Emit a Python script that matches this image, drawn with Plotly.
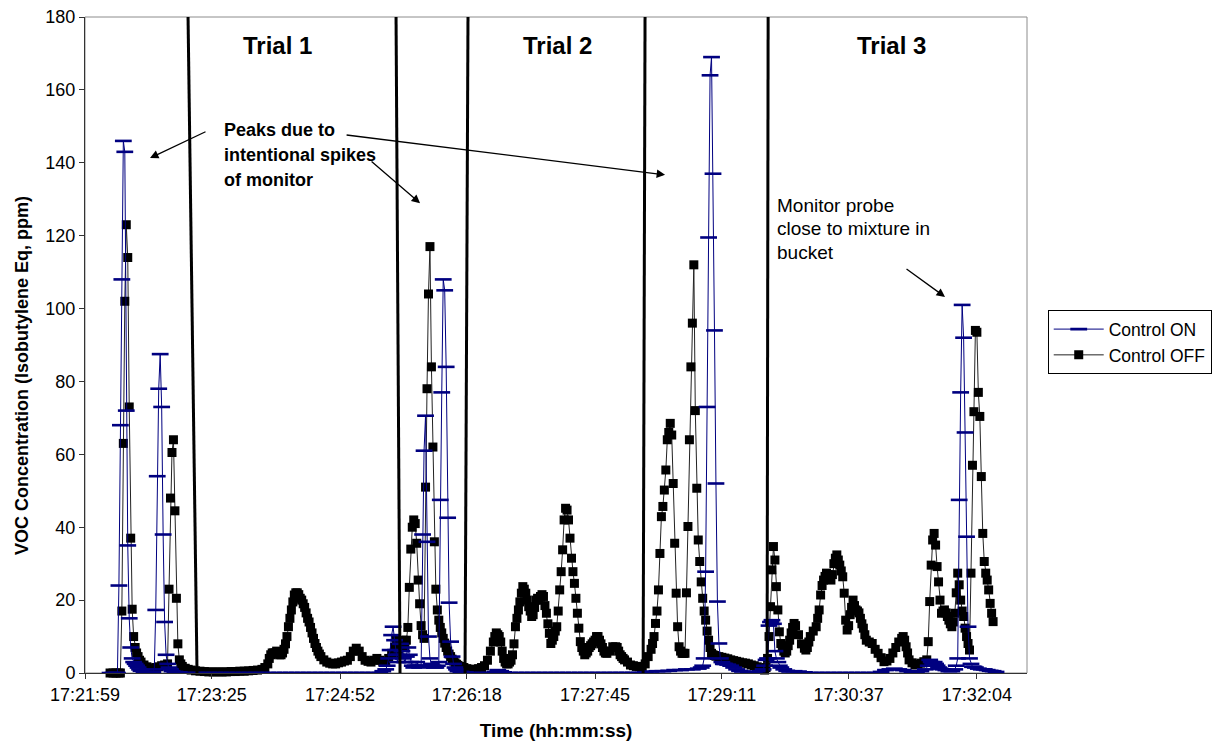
import plotly.graph_objects as go

# ---------------- data (seconds after 17:21:59) ----------------
off_t = [17, 19, 21, 23, 24,
         25, 26, 27, 28, 29, 30, 31, 32, 33, 34, 35, 36, 37, 38, 40, 42, 44, 46, 48, 50, 52, 54, 56,
         57, 58, 59, 60, 61, 62, 63, 64, 65, 66, 68, 70, 72, 75, 78, 81, 84, 87, 90, 93, 96, 99, 102,
         105, 108, 111, 114, 117, 120, 122, 124, 125, 126, 127, 128, 129, 130, 131, 132, 133, 134, 135,
         136, 137, 138, 139, 140, 141, 142, 143, 144, 145, 146, 147, 148, 149, 150, 151, 152, 153, 154,
         155, 156, 157, 158, 159, 160, 162, 164, 166, 168, 170, 172, 174, 176, 178, 180, 182, 184, 186,
         188, 190, 192, 194, 196, 198, 200, 202, 204, 206, 208, 210, 211, 212, 213, 214, 215, 216, 217,
         218, 219, 220, 221, 222, 223, 224, 225, 226, 227, 228, 229, 230, 231, 232, 233, 234, 235, 236,
         237, 238, 239, 240, 241, 242, 243, 244, 245, 246, 247, 248, 249, 250, 251, 252, 253, 255, 257,
         259, 261, 263, 265, 267, 269, 271, 273, 275, 277, 278, 279, 280, 281, 282, 283, 284, 285, 286,
         287, 288, 289, 290, 291, 292, 293, 294, 295, 296, 297, 298, 299, 300, 301, 302, 303, 304, 305,
         306, 307, 308, 309, 310, 311, 312, 313, 314, 315, 316, 317, 318, 319, 320, 321, 322, 323, 324,
         325, 326, 327, 328, 329, 330, 331, 332, 333, 334, 335, 336, 337, 338, 339, 340, 341, 342, 343,
         344, 345, 346, 347, 348, 349, 350, 351, 352, 353, 354, 356, 358, 360, 361, 362, 363, 364, 365,
         366, 368, 370, 372, 374, 376, 378, 380, 382, 384, 385, 386, 387, 388, 389, 390, 391, 392, 393,
         394, 395, 396, 397, 398, 399, 400, 401, 402, 403, 404, 405, 406, 407, 408, 409, 410, 411, 412,
         413, 414, 415, 416, 417, 418, 419, 420, 421, 422, 423, 424, 425, 426, 427, 428, 430, 432, 434,
         436, 438, 440, 442, 444, 446, 448, 450, 452, 454, 456, 458, 460, 461, 462, 463, 464, 465, 466,
         467, 468, 469, 470, 471, 472, 473, 474, 475, 476, 477, 478, 479, 480, 481, 482, 484, 486, 488,
         489, 490, 491, 492, 494, 496, 497, 498, 499, 500, 501, 502, 503, 504, 505, 506, 507, 508, 509,
         510, 511, 512, 513, 514, 515, 516, 517, 518, 519, 520, 521, 522, 523, 524, 525, 526, 527, 528,
         529, 530, 532, 534, 536, 538, 540, 542, 544, 546, 548, 550, 552, 554, 555, 556, 557, 558, 559,
         561, 563, 565, 567, 569, 571, 572, 573, 574, 575, 576, 577, 578, 579, 580, 581, 582, 583, 584,
         585, 586, 587, 588, 589, 590, 591, 592, 593, 594, 595, 596, 597, 598, 599, 600, 601, 602, 603,
         604, 605, 606, 607, 608, 609, 610, 611, 612, 613, 614, 615, 616]
off_v = [0, 0, 0, 0, 0,
         17, 63, 102, 123, 114, 73, 37, 17.5, 10, 7, 5.5, 4.5, 3.5, 3, 2.2, 1.7, 1.3, 1.2, 1.5, 1.7, 2, 2.2, 2.5,
         23, 48, 60.5, 64, 44.5, 20.5, 8, 3.6, 2.5, 1.8, 1.3, 1, 0.8, 0.6, 0.5, 0.4, 0.3, 0.3, 0.3, 0.3, 0.3, 0.4, 0.4,
         0.5, 0.5, 0.6, 0.7, 0.8, 1, 1.5, 2.5, 4, 5, 5.5, 5.5, 5.5, 6, 5.5, 5, 5, 5.5, 6.5,
         8, 10, 12.7, 15, 17.3, 19.5, 21.4, 22, 22, 21.5, 20.5, 20, 19, 18, 16.5, 15, 14, 12.5, 11,
         9.5, 8.1, 7, 6, 5.2, 4.5, 3.6, 3, 2.7, 2.5, 2.5, 2.8, 3, 3.3, 3.5, 4.5, 6, 6.8, 6,
         4.5, 3.5, 3.2, 3, 3.5, 4, 3.5, 3, 3.2, 4, 5.4, 7, 9, 6, 5, 7, 8, 9, 7,
         9, 12.5, 23.5, 34, 40, 42, 41, 35.6, 25.5, 19, 13, 10.5, 9.5, 51, 78, 104, 117, 84, 62,
         36, 23, 17.3, 14.5, 12.5, 11, 9.5, 8.2, 7, 6, 5.2, 4.5, 3.8, 3.3, 2.8, 2.4, 2.1, 1.8, 1.5,
         1.2, 1, 1, 1, 1.2, 1.5, 2, 3.5, 6, 8.5, 10, 11, 10.5, 10, 8.5, 6, 4, 3, 2.5,
         2.5, 3, 3.5, 5, 8, 12.7, 15, 17.3, 19.5, 21.9, 23.7, 23, 21.9, 20, 18.2, 17, 15.5, 16, 18,
         20, 20.5, 20, 21, 21.5, 21, 18.5, 16.4, 13.5, 10.9, 8.1, 9, 10, 11.5, 12.7, 17, 22.8, 27.8, 33.8,
         42, 45.2, 44.7, 42, 37, 31.5, 27.8, 24.6, 20.5, 16.4, 12.3, 8.6, 7, 6, 5, 5.5, 6, 7, 7.5,
         8, 8.5, 9, 10, 10, 9, 8, 7, 6, 5.5, 5.4, 6, 7.2, 7.2, 7, 6, 5, 4.5, 4,
         3.6, 3, 2.2, 2, 1.8, 1.7, 1.8, 2.5, 4.5, 6.5, 8.1, 10, 13.6, 17, 22.8, 32.8, 42.9, 45.7, 50.2,
         55.7, 64, 66, 68.5, 65.3, 52, 35.6, 21.9, 12.7, 7.2, 6, 5.4, 5.4, 5.4, 22, 40.2, 64, 84, 96,
         112, 72, 50.7, 36.5, 30.6, 25, 20.5, 17, 14.5, 11.5, 9, 7, 5.4, 5, 4.8, 4.6, 4.5, 4.3, 4.1,
         3.9, 3.6, 3.4, 3.2, 3, 2.8, 2.7, 2.5, 2.2, 2, 1.7, 1.4, 1, 0.8, 1.5, 4, 10, 18.2, 28.3,
         34.7, 31, 23.7, 17.3, 11.3, 8.1, 7, 6, 5.5, 6, 7.5, 9, 11, 12.5, 13.6, 13, 10.5, 8, 6.8,
         6.3, 7, 8.5, 10, 11.5, 12.7, 15, 17.3, 21.4, 24, 25.5, 26.5, 27.4, 27, 26, 25.5, 27, 30, 31.5,
         32.4, 31, 29.6, 28, 26.4, 21.9, 14.5, 11.8, 13, 16, 18, 20, 18.5, 17.3, 17, 16.5, 15, 13.5, 12.3,
         10.5, 9, 8.5, 8.1, 6.5, 5.4, 4.2, 3.1, 3.3, 4, 5.5, 7, 8.5, 9.5, 10, 9, 7.2, 5.5, 3.6,
         2.8, 2.2, 2.4, 2.7, 3.1, 3.6, 8.6, 19.6, 29.6, 36.5, 38.3, 35.1, 29.2, 25, 20, 16.4, 17, 17.3, 16.5,
         15.5, 14.5, 13.5, 12.7, 14, 16.4, 22, 27.4, 24.2, 20, 17, 15.5, 12.3, 10, 8.1, 6.3, 27.4, 57, 71.7,
         94, 93.5, 77, 70.4, 53.9, 38.3, 30.6, 27.4, 25.5, 22.8, 19.1, 16.4, 14.1]

on_t = [17, 19, 21, 22, 23, 24, 25, 26, 27, 28, 29, 30, 31, 32, 33, 34, 35, 36, 37, 38, 40, 42, 44, 46,
        47, 48, 49, 50, 51, 52, 53, 54, 55, 56, 57, 58, 59, 61, 64,
        68, 72, 76, 80, 84, 88, 92, 96, 100, 104, 108, 112, 116, 120, 124, 128, 132, 136, 140, 144,
        148, 152, 156, 160, 164, 168, 172, 176, 180, 184, 188, 192, 196, 200,
        202, 204, 205, 206, 207, 208, 209, 210, 211, 212, 213, 214, 215, 216, 217, 218, 219, 220, 221,
        222, 223, 224, 225, 226, 227, 228, 229, 230, 231, 232, 233, 234, 235, 236, 237, 238, 239, 240,
        241, 242, 243, 244, 245, 246, 247, 248, 249, 250, 251, 252, 253, 255, 258, 262, 266, 270, 274,
        278, 280, 282, 284, 288, 292, 296, 300, 304, 308, 312, 316, 320, 324, 328, 332, 336, 340, 344,
        348, 352, 356, 360, 364, 368, 372, 376, 380, 384, 388, 392, 396, 400, 404, 408, 412, 416, 418,
        419, 420, 421, 422, 423, 424, 425, 426, 427, 428, 429, 430, 431, 432, 433, 434, 436, 438, 440,
        442, 444, 446, 450, 454, 458, 460, 461, 462, 463, 464, 465, 466, 467, 468, 469, 470, 471, 472,
        474, 476, 478, 481, 484, 488, 492, 496, 500, 504, 508, 512, 516, 520, 524, 528, 532, 536, 540,
        543, 546, 549, 552, 555, 558, 561, 564, 567, 570, 572, 573, 574, 575, 576, 577, 578, 579, 580,
        582, 584, 586, 588, 590, 591, 592, 593, 594, 595, 596, 597, 598, 599, 600, 601, 602, 603, 604,
        606, 608, 610, 612, 614, 616, 618]
on_v = [0, 0, 0, 0, 24, 68, 108, 146, 143, 72, 35, 15, 7, 4, 3, 2.5, 2, 1.5, 1, 0.6, 0.3, 0.2, 0.2, 0.3,
        1, 17.3, 54, 78, 87.5, 73, 38, 14, 5, 2.5, 1.5, 1, 0.5, 0.3, 0.2,
        0, 0, 0, 0, 0, 0, 0, 0, 0, 0, 0, 0, 0, 0, 0, 0, 0, 0, 0, 0,
        0, 0, 0, 0, 0, 0, 0, 0, 0, 0, 0, 0, 0, 0,
        0.5, 1, 2, 4, 6.3, 10.4, 12.7, 9, 5, 3, 5, 8, 6, 4, 3, 4.5, 7, 5, 3,
        2, 1.5, 2, 3, 2, 1.5, 2, 38, 61, 70.6, 36, 10, 4, 2.5, 2, 1.5, 1.5, 2, 3,
        47.5, 77, 108, 105, 84, 42.6, 19.3, 8.6, 4.5, 2.5, 1.5, 1, 0.5, 0.3, 0.2, 0, 0, 0, 0,
        0.3, 0.8, 0.5, 0.2, 0, 0, 0, 0, 0, 0, 0, 0, 0, 0, 0, 0, 0, 0, 0,
        0, 0, 0, 0, 0, 0, 0, 0, 0.2, 0.4, 0.5, 0.5, 0.6, 0.8, 0.8, 1, 1, 1.2, 1.5,
        2, 4, 27.8, 73, 119.5, 164, 169, 137, 94, 52, 19.6, 8.1, 4, 3, 2.5, 2.5, 2.3, 2, 1.5,
        1, 0.6, 0.4, 0.3, 0.3, 0.5, 1, 2, 3.6, 4, 13, 14, 14.5, 13.5, 6, 4, 3, 2, 1.5,
        1, 0.6, 0.4, 0.5, 0.4, 0.2, 0, 0, 0, 0, 0, 0, 0, 0, 0, 0, 0, 0, 0.3,
        0.8, 1, 1.2, 1, 0.8, 0.5, 0.3, 0.3, 0.5, 1, 2, 3.6, 3, 2.5, 3, 2.5, 2, 1.5, 1.2,
        1, 0.8, 0.5, 0.5, 1, 2, 4, 47.5, 77, 101, 92, 66, 37.4, 12.7, 4, 2.5, 1.7, 1.7, 1.5,
        1.2, 1, 1, 0.8, 0.6, 0.5, 0.3]

start_label = "17:21:59"
tick_labels = ["17:21:59", "17:23:25", "17:24:52", "17:26:18",
               "17:27:45", "17:29:11", "17:30:37", "17:32:04"]
y_ticks = [0, 20, 40, 60, 80, 100, 120, 140, 160, 180]

trial_names = ["Trial 1", "Trial 2", "Trial 3"]


def to_sec(s):
    h, m, sec = (int(p) for p in s.split(":"))
    return h * 3600 + m * 60 + sec


tick_vals = [to_sec(l) - to_sec(start_label) for l in tick_labels]

FONT = "Liberation Sans, Arial, sans-serif"
NAVY = "#000080"

fig = go.Figure()

fig.add_trace(go.Scatter(
    x=off_t, y=off_v, name="Control OFF", mode="lines+markers",
    line=dict(color="#222222", width=1),
    marker=dict(symbol="square", size=9, color="black"),
    cliponaxis=False,
))
fig.add_trace(go.Scatter(
    x=on_t, y=on_v, name="Control ON", mode="lines+markers",
    line=dict(color=NAVY, width=1),
    marker=dict(symbol="line-ew", size=12, color=NAVY,
                line=dict(color=NAVY, width=2.6)),
))

# trial boundary lines (slightly slanted, hand drawn in original)
bound_top = [69.9, 211.0, 259.8, 379.9, 463.4]
bound_bot = [76.0, 213.7, 257.8, 378.6, 462.7]
for xt, xb in zip(bound_top, bound_bot):
    fig.add_shape(type="line", xref="x", yref="y", x0=xb, y0=0, x1=xt, y1=180,
                  line=dict(color="black", width=3))

# plot-area border (grey top / right)
fig.add_shape(type="rect", xref="paper", yref="paper", x0=0, y0=0, x1=1, y1=1,
              line=dict(color="#8c8c8c", width=1), layer="below")

trial_x = [130.3, 320.2, 546.8]
for name, xx in zip(trial_names, trial_x):
    fig.add_annotation(x=xx, y=172.3, text="<b>%s</b>" % name, showarrow=False,
                       font=dict(family=FONT, size=24, color="black"))

peak_lines = ["Peaks due to", "intentional spikes", "of monitor"]
for i, ln in enumerate(peak_lines):
    fig.add_annotation(x=92.9, y=149.0 - i * 6.9, text="<b>%s</b>" % ln, showarrow=False,
                       xanchor="left", yanchor="middle",
                       font=dict(family=FONT, size=18, color="black"))

probe_lines = ["Monitor probe", "close to mixture in", "bucket"]
for i, ln in enumerate(probe_lines):
    fig.add_annotation(x=468.1, y=128.4 - i * 6.45, text=ln, showarrow=False,
                       xanchor="left", yanchor="middle",
                       font=dict(family=FONT, size=19, color="black"))

arrows = [(44.1, 141.3, 57, -27), (227.3, 128.9, -50, -43),
          (393.5, 136.7, -320, -40), (583.4, 103.2, -40, -29)]
for hx, hy, ax, ay in arrows:
    fig.add_annotation(x=hx, y=hy, ax=ax, ay=ay, text="", showarrow=True,
                       arrowhead=2, arrowsize=1.3, arrowwidth=1.3, arrowcolor="black",
                       standoff=0, startstandoff=0)

# y-axis title (placed like the original, a little below the plot centre)
fig.add_annotation(xref="paper", yref="paper", x=-0.067, y=0.454,
                   text="<b>VOC Concentration (Isobutylene Eq, ppm)</b>",
                   textangle=-90, showarrow=False, xanchor="center", yanchor="middle",
                   font=dict(family=FONT, size=18, color="black"))

fig.update_layout(
    width=1216, height=738,
    margin=dict(l=77, r=197, t=9, b=73, autoexpand=False),
    paper_bgcolor="white", plot_bgcolor="white",
    font=dict(family=FONT, size=18, color="black"),
    showlegend=True,
    legend=dict(x=1.022, y=0.553, xanchor="left", yanchor="top",
                traceorder="reversed", itemwidth=50,
                bordercolor="black", borderwidth=1, bgcolor="white",
                font=dict(family=FONT, size=17.5, color="black")),
    xaxis=dict(range=[0, 639], tickvals=tick_vals, ticktext=tick_labels,
               ticklabeloverflow="allow",
               showgrid=False, zeroline=False, showline=True, linecolor="#333333",
               linewidth=1, ticks="outside", ticklen=5, tickcolor="#333333",
               title=dict(text="<b>Time (hh:mm:ss)</b>", standoff=20,
                          font=dict(family=FONT, size=19))),
    yaxis=dict(range=[0, 180], tickvals=y_ticks,
               ticklabeloverflow="allow",
               showgrid=False, zeroline=False, showline=True, linecolor="#333333",
               linewidth=1, ticks="outside", ticklen=5, tickcolor="#333333"),
)

fig.write_html("out.html")
